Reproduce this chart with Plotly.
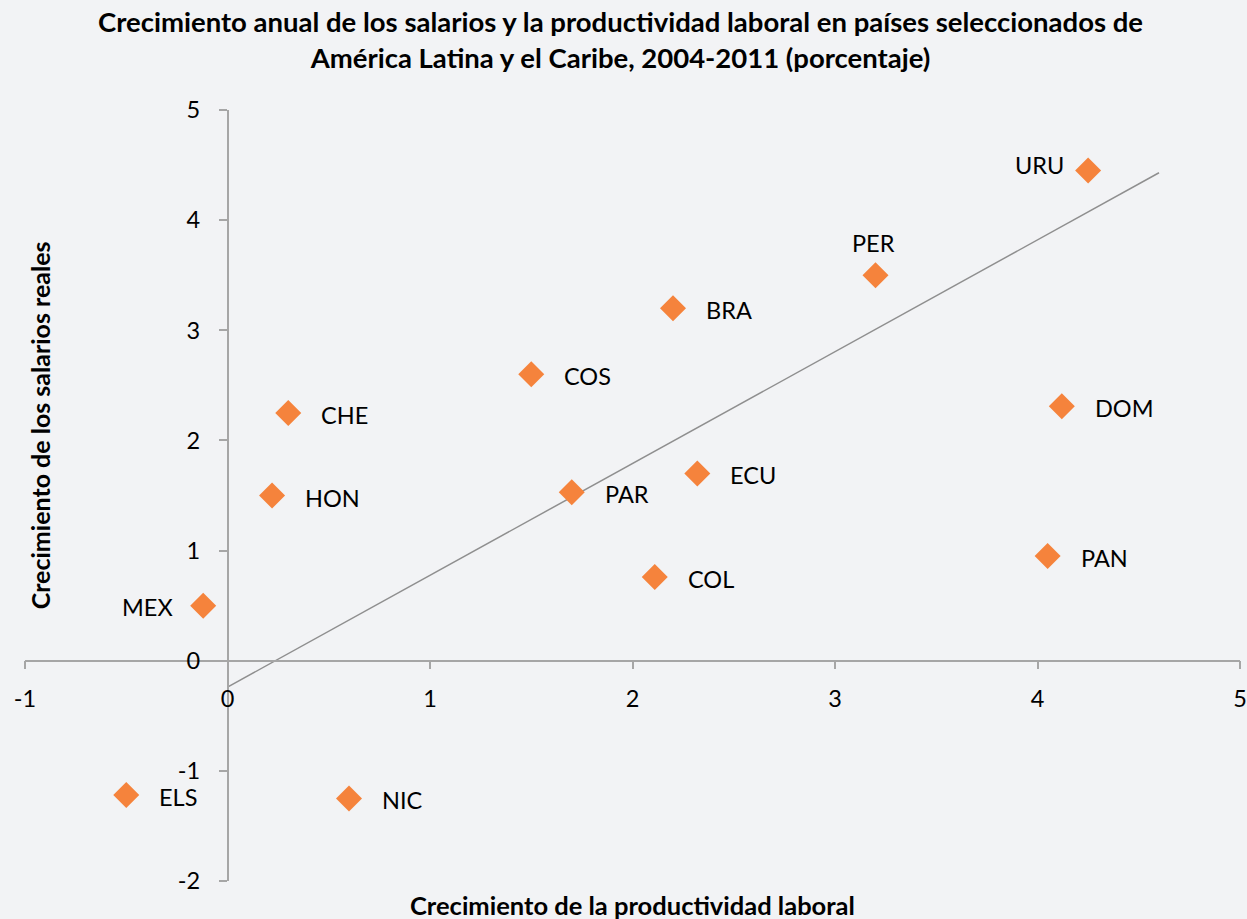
import plotly.graph_objects as go

countries = ["URU", "PER", "BRA", "COS", "CHE", "DOM", "ECU", "PAR", "HON", "COL", "PAN", "MEX", "ELS", "NIC"]
productividad = [4.25, 3.20, 2.20, 1.50, 0.30, 4.12, 2.32, 1.70, 0.22, 2.11, 4.05, -0.12, -0.50, 0.60]
salarios = [4.45, 3.50, 3.20, 2.60, 2.25, 2.31, 1.70, 1.53, 1.50, 0.76, 0.95, 0.50, -1.22, -1.25]
label_side = ["left", "top", "right", "right", "right", "right", "right", "right", "right", "right", "right", "left", "right", "right"]

trend_x = [0.0, 4.6]
trend_y = [-0.24, 4.43]

x_ticks = [-1, 0, 1, 2, 3, 4, 5]
x_ticktext = ["-1", "0", "1", "2", "3", "4", "5"]
y_ticks = [-2, -1, 0, 1, 2, 3, 4, 5]
y_ticktext = ["-2", "-1", "0", "1", "2", "3", "4", "5"]
x_range = [-1, 5]
y_range = [-2, 5]

BG = "#F2F3F5"
AXIS = "#A6A6A6"
ORANGE = "#F5833C"
FONT = "Lato, 'Open Sans', sans-serif"

fig = go.Figure()
fig.add_trace(go.Scatter(x=trend_x, y=trend_y, mode="lines",
                         line=dict(color="#8F8F8F", width=1.5), hoverinfo="skip", showlegend=False))
fig.add_trace(go.Scatter(x=productividad, y=salarios, mode="markers",
                         marker=dict(symbol="diamond", size=20, color=ORANGE),
                         text=countries, showlegend=False))

left_shift = {"URU": (-22, 6), "MEX": (-28, -1)}
for c, xv, yv, side in zip(countries, productividad, salarios, label_side):
    if side == "right":
        fig.add_annotation(x=xv, y=yv, text=c, showarrow=False, xanchor="left", yanchor="middle",
                           xshift=31, yshift=-2)
    elif side == "left":
        xs, ys = left_shift[c]
        fig.add_annotation(x=xv, y=yv, text=c, showarrow=False, xanchor="right", yanchor="middle",
                           xshift=xs, yshift=ys)
    else:
        fig.add_annotation(x=xv, y=yv, text=c, showarrow=False, xanchor="center", yanchor="middle",
                           xshift=-2, yshift=32)

x_pos = (0 - y_range[0]) / (y_range[1] - y_range[0])
y_pos = (0 - x_range[0]) / (x_range[1] - x_range[0])

fig.update_layout(
    width=1247, height=919,
    margin=dict(l=25, r=7, t=110, b=38),
    paper_bgcolor=BG, plot_bgcolor=BG,
    font=dict(family=FONT, size=23.5, color="#000000"),
    xaxis=dict(range=x_range, tickvals=x_ticks, ticktext=x_ticktext, showgrid=False, zeroline=False,
               showline=True, linecolor=AXIS, linewidth=1.5, ticks="outside", ticklen=8,
               tickcolor=AXIS, tickwidth=1.5, anchor="free", position=x_pos, automargin=False,
               ticklabelstandoff=9, ticklabeloverflow="allow", tickfont=dict(size=23.5)),
    yaxis=dict(range=y_range, tickvals=y_ticks, ticktext=y_ticktext, showgrid=False, zeroline=False,
               showline=True, linecolor=AXIS, linewidth=1.5, ticks="outside", ticklen=8,
               tickcolor=AXIS, tickwidth=1.5, anchor="free", position=y_pos, automargin=False,
               ticklabelstandoff=14, ticklabeloverflow="allow", tickfont=dict(size=23.5)),
    annotations=list(fig.layout.annotations) + [
        dict(text="<b>Crecimiento anual de los salarios y la productividad laboral en países seleccionados de<br>América Latina y el Caribe, 2004-2011 (porcentaje)</b>",
             xref="paper", yref="paper", x=0.49, y=1, yshift=107, xanchor="center", yanchor="top",
             showarrow=False, font=dict(size=27.5), align="center"),
        dict(text="<b>Crecimiento de la productividad laboral</b>", xref="paper", yref="paper",
             x=0.5, y=0, yshift=-24, xanchor="center", yanchor="middle", showarrow=False,
             font=dict(size=25.5)),
        dict(text="<b>Crecimiento de los salarios reales</b>", xref="paper", yref="paper",
             x=0, xshift=15, y=0.591, xanchor="center", yanchor="middle", textangle=-90,
             showarrow=False, font=dict(size=25)),
    ],
)

fig.write_html("out.html", config={"displayModeBar": False},
               post_script="document.body.style.margin='0';")
